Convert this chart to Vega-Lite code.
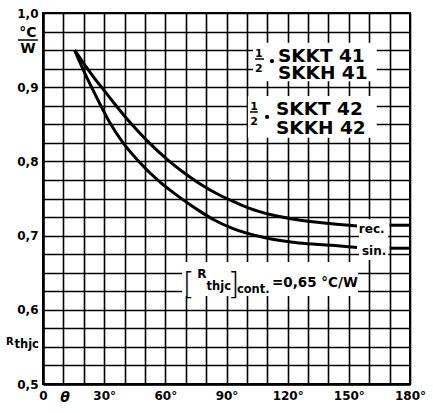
{
  "$schema": "https://vega.github.io/schema/vega-lite/v6.json",
  "width": 367,
  "height": 371,
  "autosize": "none",
  "padding": {"left": 43, "top": 13, "right": 23, "bottom": 29},
  "background": "white",
  "config": {
    "view": {"stroke": "black", "strokeWidth": 2},
    "axis": {
      "domainColor": "black", "domainWidth": 2.5,
      "gridColor": "black", "gridWidth": 1.6, "gridOpacity": 1,
      "ticks": false,
      "labelColor": "black", "labelFont": "DejaVu Sans", "labelFontWeight": "bold", "labelFontSize": 12,
      "title": null
    }
  },
  "datasets": {
    "curves": [
      {"part": "rec1", "x": 15.5, "y": 0.950},
      {"part": "rec1", "x": 18, "y": 0.940},
      {"part": "rec1", "x": 21, "y": 0.928},
      {"part": "rec1", "x": 25, "y": 0.913},
      {"part": "rec1", "x": 29, "y": 0.899},
      {"part": "rec1", "x": 35, "y": 0.878},
      {"part": "rec1", "x": 42.2, "y": 0.854},
      {"part": "rec1", "x": 51, "y": 0.828},
      {"part": "rec1", "x": 61.6, "y": 0.801},
      {"part": "rec1", "x": 68, "y": 0.787},
      {"part": "rec1", "x": 76.3, "y": 0.771},
      {"part": "rec1", "x": 86.3, "y": 0.755},
      {"part": "rec1", "x": 95, "y": 0.744},
      {"part": "rec1", "x": 101, "y": 0.737},
      {"part": "rec1", "x": 112, "y": 0.728},
      {"part": "rec1", "x": 125.5, "y": 0.721},
      {"part": "rec1", "x": 141.7, "y": 0.716},
      {"part": "rec1", "x": 154, "y": 0.713},
      {"part": "sin1", "x": 15.5, "y": 0.950},
      {"part": "sin1", "x": 18, "y": 0.934},
      {"part": "sin1", "x": 21, "y": 0.916},
      {"part": "sin1", "x": 24, "y": 0.899},
      {"part": "sin1", "x": 28, "y": 0.877},
      {"part": "sin1", "x": 32.6, "y": 0.853},
      {"part": "sin1", "x": 39, "y": 0.826},
      {"part": "sin1", "x": 47, "y": 0.800},
      {"part": "sin1", "x": 57, "y": 0.773},
      {"part": "sin1", "x": 62, "y": 0.762},
      {"part": "sin1", "x": 72, "y": 0.742},
      {"part": "sin1", "x": 76.3, "y": 0.734},
      {"part": "sin1", "x": 84, "y": 0.721},
      {"part": "sin1", "x": 92.6, "y": 0.710},
      {"part": "sin1", "x": 109, "y": 0.697},
      {"part": "sin1", "x": 125.5, "y": 0.690},
      {"part": "sin1", "x": 141.7, "y": 0.687},
      {"part": "sin1", "x": 154, "y": 0.684},
      {"part": "rec2", "x": 170, "y": 0.714},
      {"part": "rec2", "x": 180, "y": 0.714},
      {"part": "sin2", "x": 170, "y": 0.683},
      {"part": "sin2", "x": 180, "y": 0.683}
    ],
    "boxes": [
      {"x": 103, "x2": 163.7, "y": 0.908, "y2": 0.960},
      {"x": 100.5, "x2": 163.7, "y": 0.832, "y2": 0.888},
      {"x": 68.2, "x2": 154.5, "y": 0.6186, "y2": 0.6644},
      {"x": 155, "x2": 169.3, "y": 0.667, "y2": 0.722}
    ],
    "bars": [
      {"x": 104, "x2": 108.4, "y": 0.938},
      {"x": 101.5, "x2": 105.4, "y": 0.8666},
      {"x": -12.3, "x2": -2.5, "y": 0.9636}
    ],
    "dots": [
      {"x": 112.3, "y": 0.9353},
      {"x": 109.9, "y": 0.860}
    ],
    "notes": [
      {"role": "type", "x": 115.2, "y": 0.934, "text": "SKKT 41"},
      {"role": "type", "x": 115.2, "y": 0.911, "text": "SKKH 41"},
      {"role": "type", "x": 114.3, "y": 0.8625, "text": "SKKT 42"},
      {"role": "type", "x": 114.3, "y": 0.837, "text": "SKKH 42"},
      {"role": "frac", "x": 105.9, "y": 0.9407, "text": "1"},
      {"role": "frac", "x": 105.9, "y": 0.9205, "text": "2"},
      {"role": "frac", "x": 103.5, "y": 0.8693, "text": "1"},
      {"role": "frac", "x": 103.5, "y": 0.849, "text": "2"},
      {"role": "unit", "x": -7.4, "y": 0.9677, "text": "°C"},
      {"role": "unit", "x": -7.4, "y": 0.946, "text": "W"},
      {"role": "rsym", "x": -18.2, "y": 0.5526, "text": "R"},
      {"role": "rsub", "x": -14.0, "y": 0.5485, "text": "thjc"},
      {"role": "bracket", "x": 68.6, "y": 0.6213, "text": "["},
      {"role": "bracket", "x": 90.6, "y": 0.6213, "text": "]"},
      {"role": "rsym2", "x": 75.6, "y": 0.643, "text": "R"},
      {"role": "rsub2", "x": 80.2, "y": 0.6267, "text": "thjc"},
      {"role": "rsub2", "x": 95.1, "y": 0.6226, "text": "cont."},
      {"role": "value", "x": 112.3, "y": 0.6307, "text": "=0,65 °C/W"},
      {"role": "curve", "x": 154.9, "y": 0.7035, "text": "rec."},
      {"role": "curve", "x": 156.4, "y": 0.6739, "text": "sin."},
      {"role": "theta", "x": 10.8, "y": 0.4757, "text": "θ"}
    ]
  },
  "encoding": {
    "x": {"field": "x", "type": "quantitative",
      "scale": {"domain": [0, 180], "nice": false, "zero": false},
      "axis": {"values": [0,10,20,30,40,50,60,70,80,90,100,110,120,130,140,150,160,170,180],
        "labelExpr": "datum.value == 0 ? '0' : (datum.value % 30 == 0 ? datum.value + '°' : '')",
        "labelFlush": false, "labelPadding": 6}},
    "y": {"field": "y", "type": "quantitative",
      "scale": {"domain": [0.5, 1.0], "nice": false, "zero": false},
      "axis": {"values": [0.5,0.525,0.55,0.575,0.6,0.625,0.65,0.675,0.7,0.725,0.75,0.775,0.8,0.825,0.85,0.875,0.9,0.925,0.95,0.975,1.0],
        "labelExpr": "abs(datum.value*10 - round(datum.value*10)) < 0.01 ? replace(format(datum.value, '.1f'), '.', ',') : ''",
        "labelPadding": 5}}
  },
  "layer": [
    {"data": {"name": "boxes"}, "mark": {"type": "rect", "fill": "white", "stroke": null},
      "encoding": {"x2": {"field": "x2"}, "y2": {"field": "y2"}}},
    {"data": {"name": "curves"}, "mark": {"type": "line", "color": "black", "strokeWidth": 3, "interpolate": "monotone"},
      "encoding": {"detail": {"field": "part", "type": "nominal"}, "order": {"field": "x"}}},
    {"data": {"name": "bars"}, "mark": {"type": "rule", "color": "black", "strokeWidth": 1.5},
      "encoding": {"x2": {"field": "x2"}}},
    {"data": {"name": "dots"}, "mark": {"type": "point", "filled": true, "color": "black", "size": 18, "opacity": 1}},
    {"data": {"name": "notes"}, "transform": [{"filter": "datum.role == 'type'"}],
      "mark": {"type": "text", "align": "left", "baseline": "alphabetic", "font": "DejaVu Sans", "fontWeight": "bold", "fontSize": 18.5, "color": "black"},
      "encoding": {"text": {"field": "text"}}},
    {"data": {"name": "notes"}, "transform": [{"filter": "datum.role == 'frac'"}],
      "mark": {"type": "text", "align": "center", "baseline": "alphabetic", "font": "DejaVu Sans", "fontWeight": "bold", "fontSize": 11, "color": "black"},
      "encoding": {"text": {"field": "text"}}},
    {"data": {"name": "notes"}, "transform": [{"filter": "datum.role == 'unit'"}],
      "mark": {"type": "text", "align": "center", "baseline": "alphabetic", "font": "DejaVu Sans", "fontWeight": "bold", "fontSize": 14, "color": "black"},
      "encoding": {"text": {"field": "text"}}},
    {"data": {"name": "notes"}, "transform": [{"filter": "datum.role == 'rsym'"}],
      "mark": {"type": "text", "align": "left", "baseline": "alphabetic", "font": "DejaVu Sans", "fontWeight": "bold", "fontSize": 10, "color": "black"},
      "encoding": {"text": {"field": "text"}}},
    {"data": {"name": "notes"}, "transform": [{"filter": "datum.role == 'rsym2'"}],
      "mark": {"type": "text", "align": "left", "baseline": "alphabetic", "font": "DejaVu Sans", "fontWeight": "bold", "fontSize": 12, "color": "black"},
      "encoding": {"text": {"field": "text"}}},
    {"data": {"name": "notes"}, "transform": [{"filter": "datum.role == 'rsub' || datum.role == 'rsub2'"}],
      "mark": {"type": "text", "align": "left", "baseline": "alphabetic", "font": "DejaVu Sans", "fontWeight": "bold", "fontSize": 11.5, "color": "black"},
      "encoding": {"text": {"field": "text"}}},
    {"data": {"name": "notes"}, "transform": [{"filter": "datum.role == 'bracket'"}],
      "mark": {"type": "text", "align": "left", "baseline": "alphabetic", "font": "DejaVu Sans", "fontWeight": 200, "fontSize": 30, "color": "black"},
      "encoding": {"text": {"field": "text"}}},
    {"data": {"name": "notes"}, "transform": [{"filter": "datum.role == 'value'"}],
      "mark": {"type": "text", "align": "left", "baseline": "alphabetic", "font": "DejaVu Sans", "fontWeight": "bold", "fontSize": 13.5, "color": "black"},
      "encoding": {"text": {"field": "text"}}},
    {"data": {"name": "notes"}, "transform": [{"filter": "datum.role == 'curve'"}],
      "mark": {"type": "text", "align": "left", "baseline": "alphabetic", "font": "DejaVu Sans", "fontWeight": "bold", "fontSize": 12, "color": "black"},
      "encoding": {"text": {"field": "text"}}},
    {"data": {"name": "notes"}, "transform": [{"filter": "datum.role == 'theta'"}],
      "mark": {"type": "text", "align": "center", "baseline": "alphabetic", "font": "DejaVu Sans", "fontWeight": "bold", "fontStyle": "italic", "fontSize": 14, "color": "black"},
      "encoding": {"text": {"field": "text"}}}
  ]
}
